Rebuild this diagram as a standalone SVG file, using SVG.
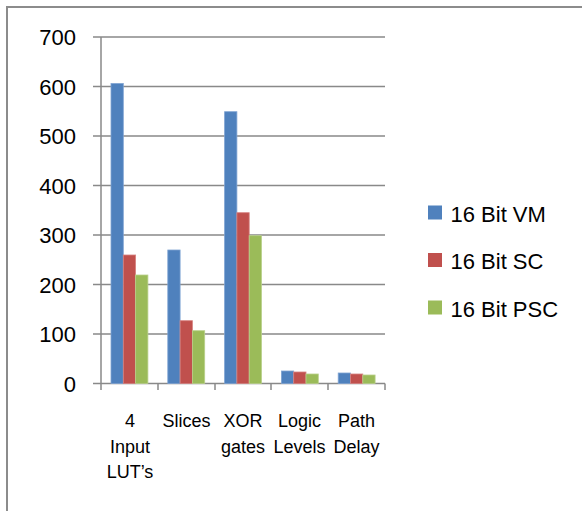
<svg xmlns="http://www.w3.org/2000/svg" width="582" height="511" viewBox="0 0 582 511">
<style>
text{font-family:"Liberation Sans",Arial,sans-serif;fill:#000}
.ax{font-size:22px;text-anchor:end}
.cat{font-size:18px;text-anchor:middle}
.lg{font-size:22px}
.grid{stroke:#898989;stroke-width:1.5;fill:none}
.vm{fill:#4F81BD;stroke:#7FA3D3;stroke-width:0.8}
.sc{fill:#C0504D;stroke:#D68280;stroke-width:0.8}
.psc{fill:#9BBB59;stroke:#B9D08A;stroke-width:0.8}
</style>
<rect x="0" y="0" width="582" height="511" fill="#fff"/>
<rect x="7" y="7" width="600" height="520" fill="none" stroke="#8c8c8c" stroke-width="2"/>
<g id="grid">
<path class="grid" d="M93 37H385M93 86.5H385M93 136H385M93 185.5H385M93 235H385M93 284.5H385M93 334H385M93 383.5H385"/>
<path class="grid" d="M101 37V390M158 383.5V390M215 383.5V390M271 383.5V390M328 383.5V390M385 383.5V390"/>
</g>
<g id="y-labels">
<text class="ax" x="76" y="45">700</text>
<text class="ax" x="76" y="94.5">600</text>
<text class="ax" x="76" y="144">500</text>
<text class="ax" x="76" y="193.5">400</text>
<text class="ax" x="76" y="243">300</text>
<text class="ax" x="76" y="292.5">200</text>
<text class="ax" x="76" y="342">100</text>
<text class="ax" x="76" y="391.5">0</text>
</g>
<g id="bars">
<rect class="vm" x="111" y="83.5" width="12.3" height="300"/>
<rect class="sc" x="123.3" y="255" width="12.3" height="128.5"/>
<rect class="psc" x="135.6" y="275" width="12.3" height="108.5"/>
<rect class="vm" x="167.8" y="250" width="12.3" height="133.5"/>
<rect class="sc" x="180.1" y="320.7" width="12.3" height="62.8"/>
<rect class="psc" x="192.4" y="330.7" width="12.3" height="52.8"/>
<rect class="vm" x="224.6" y="111.7" width="12.3" height="271.8"/>
<rect class="sc" x="236.9" y="212.7" width="12.3" height="170.8"/>
<rect class="psc" x="249.2" y="235.7" width="12.3" height="147.8"/>
<rect class="vm" x="281.4" y="371" width="12.3" height="12.5"/>
<rect class="sc" x="293.7" y="372" width="12.3" height="11.5"/>
<rect class="psc" x="306" y="374" width="12.3" height="9.5"/>
<rect class="vm" x="338.2" y="373" width="12.3" height="10.5"/>
<rect class="sc" x="350.5" y="374" width="12.3" height="9.5"/>
<rect class="psc" x="362.8" y="375" width="12.3" height="8.5"/>
</g>
<g id="categories">
<text class="cat" x="130" y="427">4</text>
<text class="cat" x="130" y="452.5">Input</text>
<text class="cat" x="130" y="478">LUT’s</text>
<text class="cat" x="186.5" y="427">Slices</text>
<text class="cat" x="243" y="427">XOR</text>
<text class="cat" x="243" y="452.5">gates</text>
<text class="cat" x="299.5" y="427">Logic</text>
<text class="cat" x="299.5" y="452.5">Levels</text>
<text class="cat" x="356.5" y="427">Path</text>
<text class="cat" x="356.5" y="452.5">Delay</text>
</g>
<g id="legend">
<g id="legend-vm"><rect x="428" y="205.5" width="14" height="14" fill="#4F81BD"/><text class="lg" x="450.5" y="221.5">16 Bit VM</text></g>
<g id="legend-sc"><rect x="428" y="253" width="14" height="14" fill="#C0504D"/><text class="lg" x="450.5" y="269">16 Bit SC</text></g>
<g id="legend-psc"><rect x="428" y="300.5" width="14" height="14" fill="#9BBB59"/><text class="lg" x="450.5" y="316.5">16 Bit PSC</text></g>
</g>
</svg>
